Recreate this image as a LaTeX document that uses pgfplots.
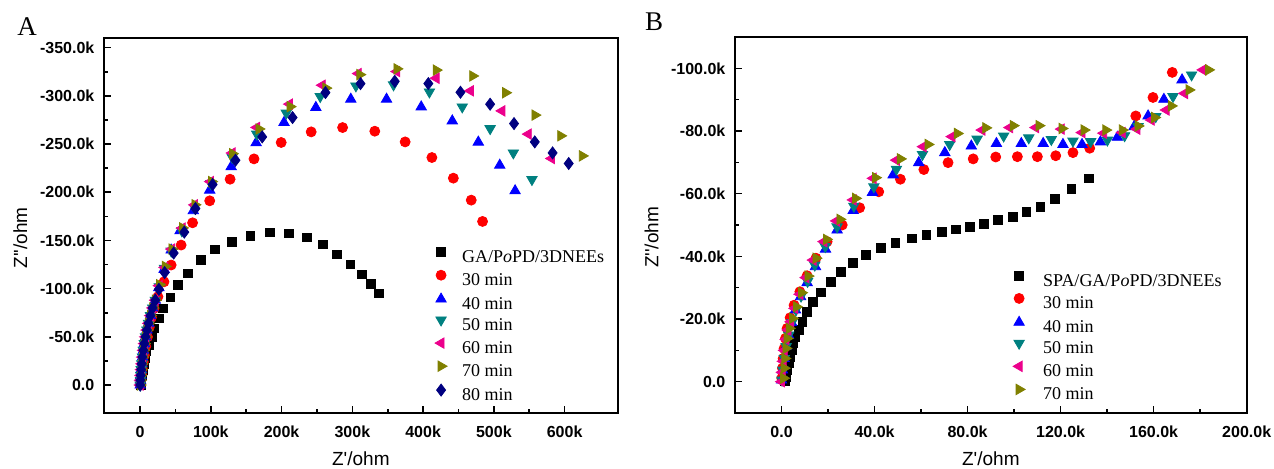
\documentclass[border=0pt]{standalone}
\usepackage{fontspec}
\setmainfont{Liberation Serif}
\setsansfont{Liberation Sans}
\usepackage{pgfplots}
\pgfplotsset{compat=1.18}
\definecolor{olivec}{HTML}{808000}
\definecolor{tealc}{HTML}{008080}
\definecolor{navyc}{HTML}{000080}
\newcommand{\tk}[1]{\sffamily\bfseries\fontsize{8}{9}\selectfont #1}
\newcommand{\zlab}{\sffamily\fontsize{9.5}{10}\selectfont Z\textquotesingle/ohm}
\newcommand{\zzlab}{\sffamily\fontsize{9.5}{10}\selectfont Z\textquotesingle\textquotesingle/ohm}

\pgfplotsset{
  eis/.style={
    scale only axis, y dir=reverse,
    axis line style={line width=1pt},
    tick align=inside, xtick pos=bottom, ytick pos=left,
    major tick length=3.5pt, minor tick length=2pt,
    every tick/.style={black, line width=0.8pt},
    minor x tick num=1, minor y tick num=1,
    xticklabel style={yshift=-3pt},
    yticklabel style={xshift=-1.3pt},
    every axis x label/.style={at={(axis description cs:0.5,-0.122)}, anchor=center},
    every axis y label/.style={at={(axis description cs:-0.163,0.467)}, rotate=90, anchor=center},
    legend cell align=left,
    legend style={draw=none, fill=none, anchor=north west,
      font=\rmfamily\fontsize{9}{10}\selectfont, row sep=1.7pt,
      nodes={inner sep=0pt, text height=6.5pt, text depth=2pt}},
  },
  pt/.style={only marks, legend image code/.code={\draw[##1] plot coordinates {(0pt,3pt)};}},
  s0/.style={pt, black, mark=square*, mark size=2.2pt},
  s1/.style={pt, red, mark=*, mark size=2.5pt},
  s2/.style={pt, blue, mark=triangle*, mark size=3pt},
  s3/.style={pt, tealc, mark=triangle*, mark size=3pt, mark options={rotate=180}},
  s4/.style={pt, magenta, mark=triangle*, mark size=3pt, mark options={rotate=90}},
  s5/.style={pt, olivec, mark=triangle*, mark size=3pt, mark options={rotate=-90}},
  s6/.style={pt, navyc, mark=diamond*, mark size=3pt},
}

\begin{document}
\begin{tikzpicture}
\path[use as bounding box] (0,0) rectangle (637pt,234.5pt);

% panel A
\begin{axis}[eis,
  at={(52pt,28pt)}, anchor=south west, width=256.85pt, height=187.5pt,
  xmin=-51, xmax=675, ymin=-360, ymax=29,
  xtick={0,100,200,300,400,500,600},
  xticklabels={\tk{0},\tk{100k},\tk{200k},\tk{300k},\tk{400k},\tk{500k},\tk{600k}},
  ytick={-350,-300,-250,-200,-150,-100,-50,0},
  yticklabels={\tk{-350.0k},\tk{-300.0k},\tk{-250.0k},\tk{-200.0k},\tk{-150.0k},\tk{-100.0k},\tk{-50.0k},\tk{0.0}},
  xlabel={\zlab}, ylabel={\zzlab},
  legend style={at={(axis description cs:0.632,0.452)}, column sep=7.5pt},
]
\addplot[s0] coordinates {(1,0) (1.5,-5) (2.5,-10) (3.5,-16) (5,-22) (7,-28) (9,-35)
 (12.1,-41.5) (16.2,-50.1) (20.2,-58.7) (26.2,-69.1) (32.8,-79.5) (42.9,-90.9) (53,-103.7)
 (68.1,-115.8) (86.3,-129.6) (106,-140.6) (129.7,-148.6) (156,-154.8) (183.2,-158.3)
 (210.5,-157.2) (235.7,-153.1) (258.5,-145.8) (278.6,-135.5) (297.3,-125.1) (313,-114.7)
 (326.6,-104.7) (337.7,-95)};
\addplot[s1] coordinates {(0.5,0) (1,-5) (2,-11) (3,-17) (4.5,-24) (6,-31) (8,-40)
 (10.5,-50) (13,-60) (16,-70) (19.7,-79.5) (25.2,-91.6) (33.8,-107.1) (43.9,-124.5)
 (58,-145.2) (74.2,-168.3) (98.4,-191.1) (127.2,-213.5) (161,-234.6) (199.4,-251.6)
 (241.8,-262.6) (286.2,-267.1) (331.7,-263.3) (374.6,-252.2) (412.4,-236) (442.7,-214.6)
 (468,-191.8) (484,-169.7)};
\addplot[s2] coordinates {(0.2,0) (0.5,-5) (1,-10) (1.6,-16) (2.4,-22) (3.4,-29) (4.6,-36)
 (6,-43) (7.7,-50) (9.7,-57) (12,-64) (14.7,-72) (17.8,-80) (21.5,-88) (26.5,-101) (34,-120)
 (43.9,-140) (56.5,-160) (75.2,-180.8) (98.4,-202.2) (128.7,-226.4) (164,-251.3)
 (203.4,-272.3) (248.4,-287.9) (297.8,-296.5) (348.3,-296.5) (397.3,-288.5) (441.2,-274)
 (478,-252) (508.3,-228) (530,-201.5)};
\addplot[s3] coordinates {(0.2,0) (0.5,-5) (1,-10) (1.6,-16) (2.4,-22) (3.4,-29) (4.6,-36)
 (6,-43) (7.7,-50) (9.7,-57) (12,-64) (14.7,-72) (17.8,-80) (21.5,-88) (27,-102) (34.5,-121)
 (44,-139) (59,-160) (77,-184) (100,-209) (130.2,-236.2) (164.9,-260.3) (206.6,-282.1)
 (254.6,-299.3) (305,-310.3) (358.2,-311.4) (408.9,-304) (455.3,-288.5) (494.7,-266)
 (527.5,-240.8) (553.8,-213.2)};
\addplot[s4] coordinates {(0.2,0) (0.5,-5) (1,-10) (1.6,-16) (2.4,-22) (3.4,-29) (4.6,-36)
 (6,-43) (7.7,-50) (9.7,-57) (12,-64) (14.7,-72) (17.8,-80) (21.5,-88) (27,-103) (35,-122)
 (44.6,-141) (59.6,-162.8) (77,-186.9) (99.5,-211) (130.2,-240.7) (164.9,-267.2)
 (211.2,-291.4) (257.5,-311) (308.4,-323.1) (362.8,-325.2) (418.4,-318.3) (467,-305.2)
 (511.4,-284.4) (548.7,-260.3) (581.5,-235)};
\addplot[s5] coordinates {(0.2,0) (0.5,-5) (1,-10) (1.6,-16) (2.4,-22) (3.4,-29) (4.6,-36)
 (6,-43) (7.7,-50) (9.7,-57) (12,-64) (14.7,-72) (17.8,-80) (21.5,-88) (27.5,-104) (35.5,-123)
 (45,-141) (60,-163) (77.5,-187) (101,-211) (130.5,-240) (168,-265.6) (212,-288.8)
 (262.5,-308) (310.5,-322) (363,-328) (418.5,-326.7) (470,-320.6) (516.5,-303.2)
 (558,-280) (594.4,-258.5) (625,-237.7)};
\addplot[s6] coordinates {(0.2,0) (0.5,-5) (1,-10) (1.6,-16) (2.4,-22) (3.4,-29) (4.6,-36)
 (6,-43) (7.7,-50) (9.7,-57) (12,-64) (14.7,-72) (17.8,-80) (21.5,-88) (26.6,-99.3)
 (34.7,-116.6) (47.5,-136.9) (62.5,-158.6) (78.2,-183.1) (102.5,-208) (134.8,-233.2)
 (172.6,-257.4) (215.5,-277.5) (262,-303.4) (311.5,-312.7) (359.9,-315.1) (407.4,-312.7)
 (452.8,-303.7) (494.7,-291.3) (528.5,-271.2) (557.8,-252.2) (583,-240.8) (605.8,-229.8)};
\legend{GA/P\textit{o}PD/3DNEEs, 30 min, 40 min, 50 min, 60 min, 70 min, 80 min}
\end{axis}

% panel B
\begin{axis}[eis,
  at={(367.5pt,28pt)}, anchor=south west, width=255.85pt, height=188pt,
  xmin=-20, xmax=200, ymin=-110, ymax=10,
  xtick={0,40,80,120,160,200},
  xticklabels={\tk{0.0},\tk{40.0k},\tk{80.0k},\tk{120.0k},\tk{160.0k},\tk{200.0k}},
  ytick={-100,-80,-60,-40,-20,0},
  yticklabels={\tk{-100.0k},\tk{-80.0k},\tk{-60.0k},\tk{-40.0k},\tk{-20.0k},\tk{0.0}},
  xlabel={\zlab}, ylabel={\zzlab},
  legend style={at={(axis description cs:0.531,0.389)}, column sep=9pt},
]
\addplot[s0] coordinates {(1.4,-0.2) (1.9,-1.6) (2.4,-3.7) (3,-5.8) (3.6,-8) (4.3,-10.1)
 (5,-12.2) (6,-14.4) (7.3,-16.5) (9,-19.1) (11,-22.3) (13.6,-25.5) (16.8,-28.5) (21.1,-31.9)
 (25.5,-35.1) (30.8,-38) (36.2,-40.4) (42.7,-42.6) (49,-44.4) (55.9,-45.7) (62.3,-46.8)
 (68.8,-47.9) (74.8,-48.6) (80.9,-49.3) (87.1,-50.4) (93.1,-51.6) (99.5,-52.6) (105.3,-54.2)
 (111.3,-55.8) (117.7,-58.4) (124.6,-61.4) (132,-64.9)};
\addplot[s1] coordinates {(0.1,-1.1) (0.4,-4.3) (0.7,-7.4) (1.1,-10.6) (1.7,-13.8) (2.4,-17)
 (3.7,-20.4) (5.4,-24.4) (7.9,-28.7) (11,-33.8) (14.8,-39.4) (19.6,-44.7) (26.1,-50)
 (33.6,-55.5) (41.8,-60.6) (51.1,-64.6) (61.2,-67.7) (71.6,-69.9) (82.4,-71.1) (92.1,-71.7)
 (101.4,-71.8) (110,-71.8) (117.9,-72.1) (125.3,-73.1) (132.5,-74.5) (152.3,-84.8)
 (159.7,-90.7) (168,-98.7)};
\addplot[s2] coordinates {(0,-0.5) (0.4,-3.7) (1.1,-7.4) (1.9,-11.2) (3,-14.9) (4.3,-18.9)
 (6,-22.9) (8.2,-27.1) (11,-31.6) (14.6,-36.7) (18.9,-42.3) (23.9,-48.4) (30.8,-54.6)
 (39.1,-60.4) (48,-66) (59,-69.9) (70.2,-73.1) (81.6,-75.2) (92.4,-76) (103.1,-76)
 (112.5,-76) (121,-75.7) (129.2,-75.7) (137.1,-76.5) (144.4,-78) (151.6,-81.4)
 (157.6,-84.8) (164.4,-90.1) (172.2,-96.3)};
\addplot[s3] coordinates {(0.2,-0.5) (0.6,-3.7) (1.2,-7.4) (2,-11.2) (3.1,-14.9) (4.5,-18.9)
 (6.2,-22.9) (8.4,-27.3) (11.2,-32) (14.3,-37.2) (18.8,-43.1) (23.9,-49.4) (31.1,-56)
 (39.7,-62.2) (49.4,-67.8) (60.6,-72.5) (72.3,-75.7) (84.1,-77.4) (95.5,-78.4) (106.3,-77.8)
 (116,-77.3) (125.3,-76.8) (132.9,-76.6) (140.1,-77.1) (147.5,-78.5) (153.3,-81.4)
 (160.9,-84.6) (168.3,-91) (176.3,-97.9)};
\addplot[s4] coordinates {(0,0) (0.3,-3) (0.7,-6.5) (1.2,-10) (1.9,-13.5) (2.8,-16.5) (4,-19.1)
 (5.7,-23.4) (7.9,-27.9) (10.5,-33.2) (13.6,-38.8) (18.2,-44.7) (23.6,-51.3) (30.8,-58)
 (39.4,-64.9) (49.4,-70.7) (60.9,-75) (73.3,-78.2) (86.2,-80.3) (98.1,-81.1) (109.3,-81.1)
 (120.3,-80.6) (129.2,-79.5) (138.5,-79.3) (146.5,-79.5) (152.8,-80.6) (159,-83.5)
 (165.4,-86.7) (173.3,-92) (181.2,-99.5)};
\addplot[s5] coordinates {(0.9,-1.1) (1.1,-4.3) (1.4,-7.4) (1.9,-10.6) (2.4,-13.8) (3.3,-17)
 (4.7,-20.2) (6.4,-23.9) (8.6,-28.4) (11.4,-33.7) (14.8,-39.4) (19.3,-45.4) (25.1,-51.8)
 (31.8,-58.5) (40.4,-65.1) (51.1,-71.1) (63,-75.7) (75.6,-79.2) (87.8,-81) (99.6,-81.7)
 (110.7,-81.7) (120.6,-80.8) (130.1,-80.3) (139.4,-80.3) (146.5,-80.3) (153.3,-81.6)
 (160.4,-84.3) (167.6,-88) (175.2,-93.1) (183.6,-99.5)};
\legend{SPA/GA/P\textit{o}PD/3DNEEs, 30 min, 40 min, 50 min, 60 min, 70 min}
\end{axis}

\node[font=\rmfamily\fontsize{13.5}{14}\selectfont] at (13.5pt,221pt) {A};
\node[font=\rmfamily\fontsize{13.5}{14}\selectfont] at (327pt,223.5pt) {B};
\end{tikzpicture}
\end{document}
